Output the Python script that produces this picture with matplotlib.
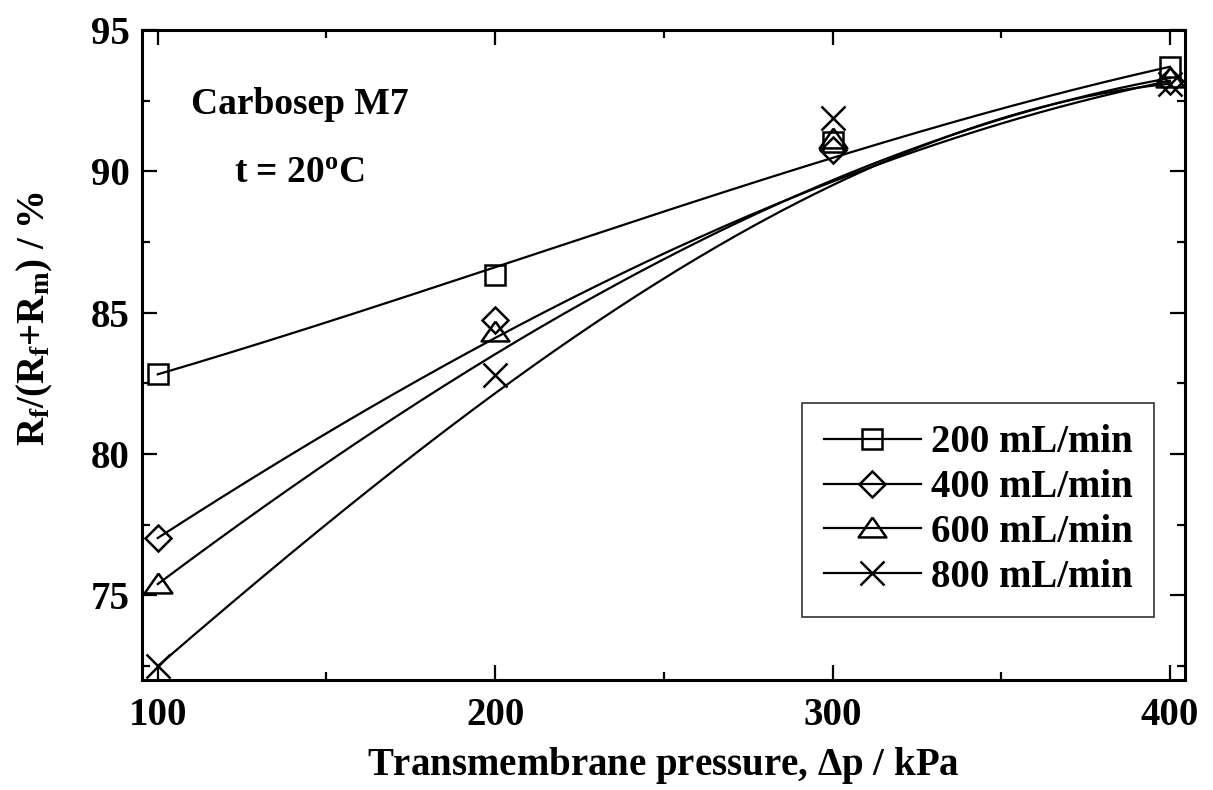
import matplotlib
matplotlib.use("Agg")
import matplotlib.pyplot as plt
from matplotlib.lines import Line2D
from matplotlib.ticker import MultipleLocator
import numpy as np

plt.rcParams['font.family'] = ['Liberation Serif', 'DejaVu Serif']
plt.rcParams['font.weight'] = 'bold'
plt.rcParams['mathtext.fontset'] = 'custom'
plt.rcParams['mathtext.rm'] = 'Liberation Serif:bold'
plt.rcParams['mathtext.bf'] = 'Liberation Serif:bold'
plt.rcParams['mathtext.it'] = 'Liberation Serif:bold'
plt.rcParams['mathtext.default'] = 'bf'

pressure = [100, 200, 300, 400]
flow_labels = ['200 mL/min', '400 mL/min', '600 mL/min', '800 mL/min']
r200 = [82.82, 86.33, 91.04, 93.70]
r400 = [77.03, 84.74, 90.76, 93.20]
r600 = [75.40, 84.33, 91.15, 93.30]
r800 = [72.50, 82.80, 91.89, 93.10]
series = [r200, r400, r600, r800]

tri = [(0, 0.55), (-0.7, -0.45), (0.7, -0.45), (0, 0.55)]
markers = ['s', 'D', tri, 'x']
msizes = [14.5, 13, 20, 17]


def bezier(px, py, n=200):
    # cubic Bezier using the data points as control points (smooth curve)
    px = np.asarray(px, float)
    py = np.asarray(py, float)
    t = np.linspace(0, 1, n)
    b = [(1 - t) ** 3, 3 * t * (1 - t) ** 2, 3 * t ** 2 * (1 - t), t ** 3]
    return sum(b[i] * px[i] for i in range(4)), sum(b[i] * py[i] for i in range(4))


fig = plt.figure(figsize=(12.13, 7.9), dpi=100)
ax = fig.add_axes([0.117, 0.139, 0.860, 0.823])

handles = []
for vals, m, ms, lab in zip(series, markers, msizes, flow_labels):
    cx, cy = bezier(pressure, vals)
    ax.plot(cx, cy, color='black', lw=1.6)
    ax.plot(pressure, vals, linestyle='none', marker=m, ms=ms,
            mfc='none', mec='black', mew=1.8, clip_on=False)
    handles.append(Line2D([], [], color='black', lw=1.6, marker=m, ms=ms,
                          mfc='none', mec='black', mew=1.8, label=lab))

ax.set_xlim(95.3, 404.5)
ax.set_ylim(72, 95)
ax.xaxis.set_major_locator(MultipleLocator(100))
ax.xaxis.set_minor_locator(MultipleLocator(50))
ax.yaxis.set_major_locator(MultipleLocator(5))
ax.yaxis.set_minor_locator(MultipleLocator(2.5))
ax.tick_params(which='both', direction='in', top=True, right=True, width=1.6,
               labelsize=28)
ax.tick_params(which='major', length=11)
ax.tick_params(which='minor', length=6)
ax.tick_params(axis='x', pad=12)
ax.tick_params(axis='y', pad=9)
for s in ax.spines.values():
    s.set_linewidth(2.2)

ax.set_xlabel('Transmembrane pressure, $\\Delta$p / kPa', fontsize=28,
              fontweight='bold', labelpad=8)
ax.set_ylabel('R$_\\mathbf{f}$/(R$_\\mathbf{f}$+R$_\\mathbf{m}$) / %',
              fontsize=28, fontweight='bold')
ax.yaxis.set_label_coords(-0.083, 0.557)

ax.text(0.151, 0.885, 'Carbosep M7', transform=ax.transAxes, fontsize=27,
        fontweight='bold', ha='center', va='center')
ax.text(0.151, 0.78, 't = 20$^\\mathbf{o}$C', transform=ax.transAxes,
        fontsize=27, fontweight='bold', ha='center', va='center')

leg = ax.legend(handles=handles, loc='lower right',
                bbox_to_anchor=(0.97, 0.097), fontsize=28, frameon=True,
                fancybox=False, edgecolor='black', handlelength=2.5,
                handletextpad=0.25, borderpad=0.55, labelspacing=0.2,
                borderaxespad=0)
leg.get_frame().set_linewidth(1.2)

fig.savefig('out.png', dpi=100)
